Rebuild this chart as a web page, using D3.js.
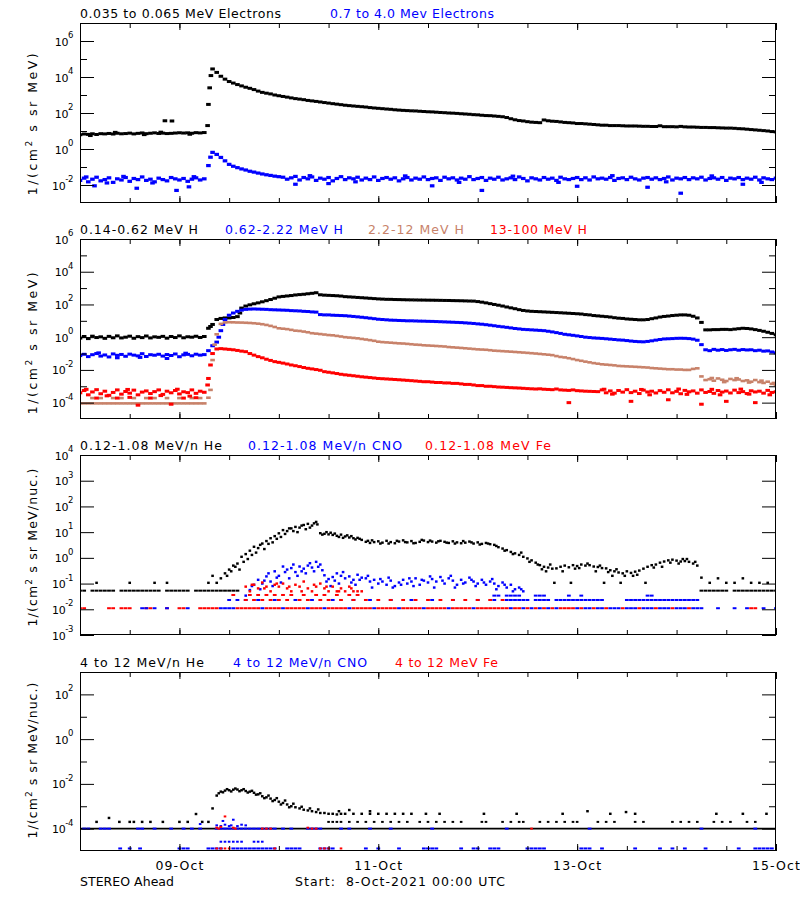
<!DOCTYPE html>
<html><head><meta charset="utf-8">
<script src="https://cdn.jsdelivr.net/npm/d3@7"></script>
<style>body{margin:0;background:#fff}svg{display:block}text{font-family:"DejaVu Sans",sans-serif}</style>
</head><body><svg id="c" width="800" height="900"></svg>
<script>
// ---------- DATA (hour index since 8-Oct-2021 00:00 UTC) ----------
const BLACK = "#000000", BLUE = "#0000ff", TAN = "#c8826a", RED = "#ff0000";

// Panel 1 electrons, hourly from h=0
const e1 = [6.2,6.8,6.5,7.0,6.4,7.1,6.9,7.3,6.8,7.5,7.0,7.2,7.6,6.9,7.4,7.8,7.1,7.5,7.9,7.3,7.6,7.2,7.4,7.7,8.0,7.7,7.9,7.5,8.1,7.8,8.2,
 300,28000,18000,11000,7600,5600,4600,3800,3200,2700,2350,2000,1650,1400,1260,1150,1000,910,830,760,690,630,590,550,500,470,440,410,380,355,330,310,290,270,257,245,234,224,214,200,190,182,
 174,166,160,151,145,140,136,132,130,125,121,117,115,111,107,104,100,98,95,91,88,85,81,79,75,72,71,68,65,62,56,48,
 42,38,36,33,31,30,29,41,37,35,34,32,30,29,28,26,26,25,24,23,22,21,21,20,20,20,19.5,19,19,19,
 18.6,18.2,18.2,17.8,17.8,19.5,17.4,17.4,17.4,17,18,17,16.6,16.6,16.2,15.8,15.8,15.5,15.5,15.1,14.8,14.5,14.5,14.1,
 13.5,13.2,12.6,12,11.5,11,10.5,10,9.3,8.9];
const e1Extra = [[20.5,37],[22.2,36],[30.8,20],[31.3,2500],[31.6,12000],[2.5,5.6],[8.5,8.4],[15.5,6.3],[19.5,8.6],[26.5,6.6]];
const e2 = [0.018,0.024,0.015,0.021,0.027,0.017,0.02,0.025,0.014,0.022,0.019,0.026,0.016,0.023,0.02,0.028,0.018,0.021,0.015,0.024,0.02,0.017,0.026,0.022,0.019,0.023,0.016,0.021,0.025,0.019,0.022,
 0.12,0.65,0.5,0.34,0.22,0.14,0.11,0.092,0.078,0.068,0.058,0.052,0.046,0.041,0.037,0.034,0.031,0.029,
 0.027,0.021,0.025,0.03,0.019,0.026,0.022,0.028,0.018,0.024,
 0.021,0.026,0.017,0.023,0.029,0.02,0.025,0.022,0.027,0.019,
 0.024,0.02,0.028,0.018,0.023,0.026,0.021,0.025,0.017,0.022,
 0.026,0.019,0.024,0.021,0.028,0.02,0.023,0.025,0.018,0.027,
 0.022,0.025,0.019,0.024,0.021,0.029,0.02,0.023,0.026,0.018,
 0.024,0.021,0.027,0.019,0.022,0.025,0.02,0.028,0.023,0.017,
 0.025,0.022,0.019,0.026,0.021,0.024,0.018,0.027,0.022,0.02,
 0.023,0.026,0.02,0.025,0.019,0.028,0.022,0.024,0.021,0.026,
 0.018,0.023,0.025,0.02,0.027,0.022,0.019,0.024,0.026,0.021,
 0.025,0.02,0.023,0.028,0.019,0.024,0.022,0.026,0.02,0.025,
 0.022,0.027,0.019,0.023,0.025,0.021,0.026,0.018,0.024,0.022,
 0.026,0.02,0.024,0.021,0.027,0.019,0.025,0.022,0.02,0.024];
const e2Extra = [[31.5,0.35],[3.5,0.009],[13.7,0.0066],[23.3,0.005],[26.3,0.0079],[52,0.011],[60,0.012],[85,0.009],[97,0.005],[120,0.0085],[137,0.0075],[145,0.0035],[160,0.011],
 [1.5,0.028],[6.5,0.013],[10.5,0.03],[17.5,0.013],[27.5,0.029],[55.5,0.033],[66.5,0.015],[78.5,0.032],[91.5,0.014],[104.5,0.031],[115.5,0.014],[128.5,0.033],[141.5,0.015],[152.5,0.032],[164.5,0.014]];

// Panel 2 protons, hourly from h=0
const h1 = [0.88,1.1,0.82,1.15,0.95,1.05,0.85,1.12,0.92,1.2,0.9,1.0,1.15,0.86,1.08,0.94,1.18,0.9,1.05,0.98,1.12,0.87,1.1,0.95,1.2,0.92,1.06,1.0,1.14,0.96,1.1,
 3.5,6,12,14,15,15,16,18,60,80,95,110,125,145,170,200,240,290,310,330,350,380,400,420,450,480,520,390,370,360,350,340,325,300,290,280,268,258,248,238,228,218,
 212,206,205,200,198,195,192,190,188,186,185,183,182,180,178,176,175,172,170,168,165,162,160,
 150,138,125,112,100,90,80,70,62,55,48,43,40,
 38,37,36,35,34,33,32,31,30,29,28,27,26,24,23,21,20,
 19,18,17,15.5,14.5,14,13,12.5,12,11.5,11.5,12,13.5,15,17,18.5,19.5,21,22,23,23,22,19,15,
 8,2.8,2.8,2.9,2.9,3.0,3.0,2.9,3.1,3.3,3.5,3.4,3.2,2.9,2.6,2.3,2.0,1.7,1.4];
const h1Extra = [[31.5,4.5],[38.6,30]];
const h2 = [0.075,0.09,0.065,0.085,0.1,0.07,0.082,0.062,0.095,0.078,0.088,0.068,0.092,0.08,0.072,0.098,0.066,0.085,0.079,0.09,0.07,0.087,0.076,0.094,0.064,0.083,0.089,0.073,0.091,0.08,0.086,
 0.15,0.3,0.5,2.5,12,22,30,38,45,50,52,53,52,51,50,48,47,46,45,44,42,41,40,38,37,35,34,24,23,23,22,21.5,21,20.5,19.5,18.5,17.5,16.5,15.5,14.5,13.5,12.5,
 12,11.5,11,10.8,10.5,10.3,10,10,9.8,9.6,9.5,9.3,9.2,9,8.8,8.6,8.4,8.2,8,7.8,7.5,7.2,6.9,6.5,6.2,5.8,5.4,5.0,
 4.6,4.3,4.0,3.7,3.4,3.2,3.0,2.9,2.8,2.7,2.6,2.5,2.3,2.1,1.9,1.7,1.5,1.4,1.3,1.2,1.1,1.0,0.95,0.9,0.87,
 0.84,0.8,0.76,0.72,0.68,0.66,0.62,0.58,0.55,0.53,0.52,0.55,0.6,0.66,0.72,0.78,0.8,0.82,0.85,0.86,0.85,0.82,0.76,0.65,0.35,
 0.17,0.15,0.18,0.16,0.175,0.155,0.17,0.18,0.16,0.175,0.165,0.17,0.15,0.16,0.14,0.145,0.125,0.11];
const h2Extra = [[33.5,1.0],[34.5,6],[21,0.05],[9,0.055],[4.5,0.11],[14.5,0.058],[25.5,0.105]];
const h3 = [0.00009,0.00009,0.00009,0.00009,0.00009,0.00009,0.00009,0.00009,0.00009,0.00009,0.00009,0.00009,0.00009,0.00009,0.00009,0.00009,0.00009,0.00009,0.00009,0.00009,0.00009,0.00009,0.00009,0.00009,0.00009,0.00009,0.00009,0.00009,0.00009,0.00009,0.00009,
 0.0002,0.04,1.5,6.5,8,8.2,8.1,7.9,7.8,7.6,7.4,7.1,6.7,6.2,5.6,4.9,4.2,3.5,3.3,3.1,2.8,2.5,2.4,2.2,2.0,1.75,1.65,1.55,1.45,1.35,1.3,1.2,1.1,1.0,0.95,0.9,0.85,0.78,0.72,0.66,0.6,0.53,
 0.5,0.48,0.46,0.44,0.42,0.41,0.39,0.37,0.35,0.34,0.32,0.31,0.3,0.29,0.28,0.27,0.25,
 0.24,0.23,0.22,0.21,0.2,0.19,0.18,0.175,0.17,0.16,0.15,0.145,
 0.14,0.135,0.13,0.125,0.12,0.115,0.11,0.105,0.1,0.095,0.09,0.085,0.08,0.07,0.062,
 0.058,0.052,0.046,0.04,0.036,0.032,0.029,0.026,0.024,
 0.022,0.021,0.02,0.019,0.0175,0.017,0.0165,0.016,0.0155,0.015,0.0145,0.014,0.013,0.0125,0.012,0.0115,0.011,0.011,0.0105,0.0105,0.01,0.01,0.0115,0.0125,0.004,
 0.0024,0.0027,0.0022,0.003,0.0025,0.0021,0.0028,0.0024,0.0026,0.0021,0.0023,0.0019,0.0024,0.0018,0.0016,0.0019,0.0014,0.0012];
const h3Extra = [[3,0.00019],[5,0.00019],[8,0.00019],[10,0.00019],[13,0.00019],[16,0.00019],[18,0.00019],[21,0.00019],[24,0.00019],[27,0.00019],[29,0.00019],[31.5,0.0006],[32.5,0.35],
 [152.5,0.0032],[155.5,0.0018],[158.5,0.0031],[161.5,0.0017],[164.5,0.0022],[167.5,0.0016]];
const h4 = [0.0004,0.00055,0.0003,0.00045,0.00062,0.00035,0.0005,0.00028,0.00042,0.0006,0.00033,0.00048,0.00038,0.00058,0.0003,0.00044,0.00052,0.00036,0.00047,0.0006,0.00032,0.0005,0.0004,0.00055,0.00034,0.00046,0.00041,0.0006,0.00037,0.0005,0.00043,
 0.003,0.1,0.19,0.2,0.19,0.18,0.17,0.155,0.14,0.13,0.1,0.08,0.065,0.055,0.045,0.038,0.032,0.029,0.026,0.023,0.02,0.018,0.016,0.014,0.0125,0.0115,0.0105,0.0095,0.0078,0.0072,0.0066,0.006,0.0054,0.005,0.0047,0.0044,0.0041,0.0038,0.0036,0.0034,0.0032,0.003,
 0.0029,0.0028,0.0027,0.0026,0.0025,0.0024,0.0023,0.0022,0.0021,0.002,0.0019,0.0019,0.0018,0.0017,0.0017,0.0016,0.0016,
 0.0015,0.0015,0.0014,0.0013,0.0013,0.0012,0.0011,0.0011,0.001,0.001,0.00095,0.0009,
 0.00088,0.00085,0.00082,0.0008,0.00078,0.00075,0.00072,0.0007,0.00068,0.0007,0.00066,0.00064,0.00062,0.00068,0.0006,0.00058,0.00056,0.0006,0.00054,0.00052,0.0005,0.00049,0.00048,
 0.00047,0.0006,0.0004,0.00052,0.00038,0.00055,0.00044,0.00062,0.00041,0.0005,
 0.00036,0.00058,0.00045,0.0005,0.00039,0.00054,0.00043,0.00061,0.0004,0.00049,
 0.00035,0.00056,0.00046,0.00052,0.00038,0.0006,0.00042,0.00048,0.00037,0.00055,
 0.00044,0.00051,0.00039,0.00058,0.00041,0.00047,0.00036,0.00053,0.00045,0.0005,
 0.00038,0.00056,0.00042,0.00046];
const h4Extra = [[4,0.00019],[9,0.00019],[12,0.00021],[17,0.00019],[25,0.00019],[28,0.0002],[14,0.00007],[22,0.00008],[31.5,0.02],[30.8,0.0012],
 [1.5,0.00065],[6.5,0.00026],[11.5,0.00064],[19.5,0.00027],[23.5,0.00066],[26.5,0.00025],
 [118,0.0001],[133,0.00012],[142,0.00015],[150,0.00008],[156,0.00012],[163,0.0001],[128.5,0.00033],[137.5,0.0003],[146.5,0.00032],[154.5,0.0003],[161.5,0.00033],[166.5,0.0003],
 [126.5,0.00066],[135.5,0.00064],[144.5,0.00068],[152.5,0.00065],[159.5,0.00067]];

// Panel 3 (0.12-1.08 MeV/n), event series start at given hour
const he3Start = 31;
const he3 = [0.107,0.2,0.107,0.16,0.25,0.35,0.5,0.6,1.1,1.4,
 1.9,2.7,2.4,3.6,4.5,5.8,7,9,12,11, 14,16,15,19,21,18,25,9.1,8.6,8.2,
 7.8,7.2,8,6.8,6.2,5.8,6,5,4.2,3.8, 4.1,4.4,3.9,4.6,4.1,3.7,4.3,4.8,4,4.5,
 3.8,4.2,4.7,4.1,4.3,3.9,4.6,4.2,3.8,4.4, 4,3.7,3.9,4.3,3.6,4,3.5,3.8,3.4,3.2,
 2.6,2.3,2,1.7,1.5,1.3,1.1,0.95,0.8,0.65, 0.52,0.45,0.42,0.38,0.39,0.45,0.5,0.43,0.52,0.48,
 0.55,0.5,0.52,0.46,0.44,0.4,0.39,0.33,0.3,0.27, 0.25,0.3,0.26,0.29,0.32,0.38,0.45,0.52,0.55,0.65,
 0.72,0.8,0.85,0.78,0.72,0.75,0.7,0.6,0.5,0.17];
const he3Extra = [[4,0.107],[12,0.107],[18,0.107],[21,0.107],[152,0.107],[154,0.16],[156,0.107],[158,0.107],[160,0.16],[162,0.107],[164,0.107],[166,0.107],
 [38.5,0.35],[40.5,0.9],[42.5,1.6],[44.5,2.2],[46.5,4],[48.5,6.5],[50.5,14],[52.5,10],[54.5,13],[56.5,22],[58.5,8],[60.5,9.5],[62.5,6.5],[64.5,7.5],[66.5,5.2],
 [70.5,4.8],[74.5,3.6],[78.5,4.1],[82.5,5.0],[86.5,4.4],[90.5,3.6],[94.5,4.0],[98.5,3.6],[102.5,1.9],[106.5,1.6],[110.5,0.55],[114.5,0.107],[118.5,0.107],
 [112.5,0.3],[120.5,0.4],[124.5,0.3],[126.5,0.107],[128.5,0.2],[130.5,0.107],[133.5,0.2],[136.5,0.107],[140.5,0.45],[144.5,0.6],[146.5,0.9],
 [35.5,0.2],[36.5,0.3],[37.5,0.45],[39.5,0.7],[41.5,1.3],[43.5,3.2],[45.5,3.5],[47.5,5.5],[49.5,8.5],[51.5,11],[53.5,18],[55.5,15],[57.3,20],[59.5,10],[61.5,8.8],
 [63.5,6],[65.5,7],[67.5,5.5],[69.5,4.6],[72.5,3.6],[76.5,4.6],[80.5,3.7],[84.5,4.7],[88.5,3.9],[92.5,4.5],[96.5,3.3],[100.5,2.9],[104.5,1.4],[108.5,0.7],
 [111.5,0.36],[113.5,0.55],[116.5,0.3],[119.5,0.38],[122.5,0.6],[125.5,0.5],[127.5,0.28],[129.5,0.36],[131.5,0.2],[134.5,0.22],[138.5,0.42],[142.5,0.65],[145.5,0.9],[148.5,0.7]];
const he3LowHours = [0,1,3,4,5,6,7,8,10,11,12,13,14,15,16,17,18,19,21,22,23,24,25,26,28,29,30,31,32,33,34,35,36,37,38,150,151,152,153,154,155,156,158,159,160,161,162,163,164,165,166,167,168];
const he3Low = 0.053;
const cno3Start = 41;
const cno3 = [0.056,0.09,0.14,0.1,0.19,0.12,0.3,0.2,0.46,0.35, 0.4,0.28,0.46,0.38,0.5,0.42,0.7,0.55,0.21,0.15,
 0.18,0.25,0.2,0.16,0.19,0.14,0.22,0.17,0.16,0.12, 0.14,0.1,0.12,0.09,0.13,0.08,0.11,0.14,0.1,0.12,
 0.16,0.09,0.13,0.11,0.15,0.12,0.18,0.1,0.16,0.13, 0.09,0.14,0.11,0.17,0.12,0.1,0.14,0.09,0.12,0.1,
 0.08,0.11,0.07,0.09,0.06,0.07,0.05];
const cno3Extra = [[40,0.034],[43.5,0.06],[46.5,0.08],[48.5,0.11],[50.5,0.16],[52.5,0.2],[54.5,0.25],[56.5,0.3],[60.5,0.08],[62.5,0.1],[66.5,0.09],[70.5,0.07],[75.5,0.07],[80.5,0.08],[85.5,0.07],[90.5,0.07],[95.5,0.08],[100.5,0.06],[104.5,0.05],
 [41.5,0.08],[44.5,0.13],[45.5,0.25],[47.5,0.17],[49.5,0.28],[51.5,0.55],[53.5,0.3],[55.5,0.62],[57.5,0.45],[58.5,0.33],[59.5,0.12],[61.5,0.13],[63.5,0.28],[65.5,0.11],[67.5,0.14],[69.5,0.2],
 [72.5,0.15],[74.5,0.17],[77.5,0.09],[79.5,0.16],[82.5,0.14],[84.5,0.19],[87.5,0.13],[89.5,0.2],[92.5,0.1],[94.5,0.14],[97.5,0.11],[99.5,0.15],[102.5,0.09],[106.5,0.06]];
const cno3LowHours = [15,16,18,21,26,34,35,36,37,44,49,55,59,65,71,77,83,89,95,104,107,109,111,113,115,120,122,123,125,126,128,129,130,132,133,134,136,137,138,140,141,142,144,145,146,148,149,150,154,158,161,165,168];
const cno3MidHours = [36,38,40,43,47,52,56,61,66,70,75,80,85,90,96,100,103,104,105,106,107,108,110,111,112,113,115,116,117,118,119,120,121,122,123,124,125,126,132,133,134,135,136,137,138,139,140,141,142,143,144,145,146,147,148,149];
const cno3HighHours = [100,101,103,104,105,106,110,111,112,118,121,137,138];
const fe3Start = 40;
const fe3 = [0.076,0.05,0.09,0.065,0.11,0.076,0.05,0.09,0.076,0.1,0.065,0.05,0.09,0.076,0.12,0.065,0.05,0.076,0.1,0.065,0.05,0.076,0.05,0.065,0.05,0.076,0.05,0.05,0.05];
const fe3Extra = [[41.5,0.09],[44.5,0.065],[47.5,0.1],[50.5,0.076],[53.5,0.05],[56.5,0.09],[59.5,0.076],[62.5,0.05],[65.5,0.065]];
const fe3LowHours = [0,1,7,8,10,11,12,16,17,21,24,25,29,30,31,32,33,38,39,40,41,42,43,45,46,47,48,50,51,52,53,54,56,57,58,60,61,62,63,64,66,67,68,69,70,72,73,74,75,76,78,79,80,81,82,84,85,86,87,88,90,91,92,93,94,96,97,98,99,100,101,102,103,105,106,108,110,112,114,116,117,118,119,121,124,127,131,135,139,143,147,162,163];
const fe3MidHours = [40,42,44,46,48,50,53,55,58,60,63,66,69,72,75,78,81,84,87,90,93,96,99,102];
const fe3HighHours = [37,41,43,45,47,49,51,54,57,59,62,65,67];
const lvl3 = {low: 0.011, mid: 0.023, cnoHigh: 0.034, feHigh: 0.036};

// Panel 4 (4-12 MeV/n)
const he4Base = [[0,1e-4],[168,1e-4]];
const he4Start = 32;
const he4 = [0.0008,0.003,0.0045,0.005,0.0052,0.0055,0.0056,0.0052,0.0048,0.0045,0.004,0.0034,0.0028,0.0025,0.0022,0.0019,0.0016,0.0014,0.0012,0.001,0.0009,0.0008,0.0007,0.00065,0.0006,0.00055,0.0005,0.0005,0.00046,0.00046,0.00043,0.00046];
const he4Extra = [[33.5,0.0038],[34.5,0.0042],[35.5,0.0058],[36.5,0.0046],[37.5,0.0062],[38.5,0.0047],[39.5,0.0058],[40.5,0.0041],[41.5,0.0049],[42.5,0.0033],[43.5,0.0038],[44.5,0.0023],[45.5,0.003],[46.5,0.0017],[47.5,0.0023],[48.5,0.0012],[49.5,0.0018],[50.5,0.0009],[51.5,0.0013],[53.5,0.00095],[55.5,0.0008],[57.5,0.00072],[62.5,0.0006],[65,0.00068],[70,0.0006],
 [4,0.0002],[7,0.0003],[9.5,0.0002],[12,0.0002],[13,0.0002],[15,0.0002],[17,0.0002],[20,0.0002],[24,0.0002],[26,0.0002],[28,0.00045],[29.5,0.0002],[31,0.0002],
 [64,0.00046],[66,0.00046],[68,0.00046],[70,0.00046],[72,0.00046],[74,0.00046],[76,0.00046],[78,0.00046],[80,0.00046],[83.5,0.00046],[86.8,0.00046],[97.5,0.00046],[105.4,0.00046],[116.5,0.00046],[122.5,0.0006],[128,0.00046],[131.8,0.00055],[134,0.00046],[153.6,0.00046],[160,0.00046],[165.7,0.00046]];
const he4MidHours = [60,61,62,63,65,67,69,71,73,75,77,79,82,84,86,88,90,92,97,98,102,104,106,107,111,113,115,117,119,120,125,127,129,134,136,143,145,147,149,153,155,157,161,163];
const he4Mid = 0.0002;
const cno4BaseHours = [1,2,5,6,7,14,15,18,22,25,27,29,33,34,35,36,37,38,39,40,41,42,43,44,45,46,47,49,51,55,56,57,58,63,65,70,75,85,103,123,150,163];
const cno4LowHours = [9.7,12,14.5,24,25,26,31,32,33,34,37,38,39,40,41,42,43,44,45,46,47,50,51,52,53,58,59,60,61,69,72,77,83,84,85,86,92,95,96,99,100,101,108,109,110,111,112,121,122,123,126,134,140,143,146,151,159,163,164,165,166,167];
const cno4Extra = [[33,0.00014],[34,0.00013],[34.5,0.00022],[35,0.00015],[36,0.00013],[36.5,0.00014],[37,0.00025],[38,0.00013],[39,0.00015],[40,0.00014],[29,0.00016],
 [34,0.000026],[35,0.000026],[36,0.000026],[37,0.000026],[38,0.000026],[39,0.000026],[42,0.000026],[43,0.000026],[44,0.000026]];
const fe4Extra = [[33,0.00011],[33.5,0.0001],[34,0.00012],[37,0.00011],[37.5,0.0001],[44,0.0001],[45,0.0001],[46,0.0001],[55,0.00011],[56,0.0001],[57,0.0001],[109,0.0001],[35,0.00035],
 [33,0.000013],[34,0.000013],[35,0.000013],[36,0.000013],[47,0.000013],[58,0.000013],[59,0.000013],[60,0.000013],[63,0.000013]];
const lvl4 = {base: 1e-4, low: 1.3e-5};

// ---------- DRAWING ----------
const svg = d3.select('#c');
const X0 = 80, X1 = 776;
const START = Date.UTC(2021, 9, 8), END = Date.UTC(2021, 9, 15);
const T = h => new Date(START + h * 3600e3);
const x = d3.scaleUtc().domain([new Date(START), new Date(END)]).range([X0, X1]);
const hourly = (vals, start = 0) => vals.map((v, i) => [start + i, v]);
const atLevel = (hours, v) => hours.map(h => [h, v]);

function fitText(t, w) {
  const n = t.node(), L = n.getComputedTextLength(), c = n.textContent.length;
  if (c > 1) t.attr('letter-spacing', ((w - L) / (c - 1)).toFixed(3));
}

const panels = [
  {top: 23, bottom: 203, domain: [1e-3, 1e7], every: 2, ytitle: 'MeV)', ylen: 142, ycy: 123,
   titles: [['0.035 to 0.065 MeV Electrons', 80, 201, BLACK], ['0.7 to 4.0 Mev Electrons', 330, 164, BLUE]],
   series: [[hourly(e1).concat(e1Extra), BLACK, 4.6, 3], [hourly(e2).concat(e2Extra), BLUE, 4.6, 3.2]]},
  {top: 239, bottom: 419, domain: [1e-5, 1e6], every: 2, ytitle: 'MeV)', ylen: 142, ycy: 342,
   titles: [['0.14-0.62 MeV H', 80, 118, BLACK], ['0.62-2.22 MeV H', 225, 118, BLUE], ['2.2-12 MeV H', 368, 96, TAN], ['13-100 MeV H', 490, 97, RED]],
   series: [[hourly(h1).concat(h1Extra), BLACK, 4.6, 3], [hourly(h2).concat(h2Extra), BLUE, 4.6, 3],
            [hourly(h3).concat(h3Extra), TAN, 4.6, 2.6], [hourly(h4).concat(h4Extra), RED, 4.6, 3]]},
  {top: 455, bottom: 635, domain: [1e-3, 1e4], every: 1, ytitle: 'MeV/nuc.)', ylen: 158, ycy: 547,
   titles: [['0.12-1.08 MeV/n He', 80, 142, BLACK], ['0.12-1.08 MeV/n CNO', 248, 154, BLUE], ['0.12-1.08 MeV Fe', 425, 126, RED]],
   series: [[atLevel(he3LowHours, he3Low), BLACK, 3.8, 2], [hourly(he3, he3Start).concat(he3Extra), BLACK, 2.6, 2.4],
            [atLevel(cno3MidHours, lvl3.mid).concat(atLevel(cno3HighHours, lvl3.cnoHigh)), BLUE, 3.8, 2],
            [hourly(cno3, cno3Start).concat(cno3Extra), BLUE, 2.6, 2.4],
            [atLevel(fe3MidHours, lvl3.mid).concat(atLevel(fe3HighHours, lvl3.feHigh)), RED, 3.8, 2],
            [hourly(fe3, fe3Start).concat(fe3Extra), RED, 2.6, 2.4],
            [atLevel(fe3LowHours, lvl3.low), RED, 3.8, 2], [atLevel(cno3LowHours, lvl3.low), BLUE, 3.8, 2]]},
  {top: 672, bottom: 851, domain: [1e-5, 1e3], every: 2, ytitle: 'MeV/nuc.)', ylen: 156, ycy: 760,
   titles: [['4 to 12 MeV/n He', 80, 124, BLACK], ['4 to 12 MeV/n CNO', 233, 134, BLUE], ['4 to 12 MeV Fe', 395, 103, RED]],
   line: [he4Base, BLACK],
   series: [[hourly(he4, he4Start).concat(he4Extra), BLACK, 2.6, 2.4], [atLevel(he4MidHours, he4Mid), BLACK, 2.6, 2],
            [atLevel(cno4BaseHours, lvl4.base), BLUE, 3.8, 2], [atLevel(cno4LowHours, lvl4.low), BLUE, 3.8, 2],
            [cno4Extra, BLUE, 2.6, 2], [fe4Extra, RED, 2.6, 2]]}
];

const minorT = d3.utcHour.every(12).range(new Date(START), new Date(END + 1));
const majorT = d3.utcDay.every(2).range(new Date(START), new Date(END + 1));

panels.forEach((p, i) => {
  const y = d3.scaleLog().domain(p.domain).range([p.bottom, p.top]);
  const lo = Math.round(Math.log10(p.domain[0])), hi = Math.round(Math.log10(p.domain[1]));
  const exps = d3.range(lo, hi + 1);
  const major = exps.filter(e => p.every === 1 || e % 2 === 0).map(e => Math.pow(10, e));
  const minor = exps.filter(e => p.every !== 1 && e % 2 !== 0 && e > lo && e < hi).map(e => Math.pow(10, e));

  const cid = 'clip' + i;
  svg.append('clipPath').attr('id', cid).append('rect')
    .attr('x', X0).attr('y', p.top).attr('width', X1 - X0).attr('height', p.bottom - p.top);
  const data = svg.append('g').attr('clip-path', `url(#${cid})`);

  if (p.line) {
    data.append('path').datum(p.line[0]).attr('fill', 'none').attr('stroke', p.line[1]).attr('stroke-width', 1.8)
      .attr('d', d3.line().x(d => x(T(d[0]))).y(d => y(d[1])));
  }
  p.series.forEach(([pts, color, w, h]) => {
    data.append('g').attr('fill', color).selectAll('rect')
      .data(pts.filter(d => d[1] != null)).join('rect')
      .attr('x', d => x(T(d[0])) - w / 2).attr('y', d => y(d[1]) - h / 2)
      .attr('width', w).attr('height', h);
  });

  const strip = g => { g.select('.domain').remove(); g.selectAll('line').attr('stroke', '#000'); };
  const yl = svg.append('g').attr('transform', `translate(${X0},0)`)
    .call(d3.axisLeft(y).tickValues(major).tickSize(-14).tickPadding(8).tickFormat(''))
    .call(strip);
  svg.append('g').attr('transform', `translate(${X0},0)`)
    .call(d3.axisLeft(y).tickValues(minor).tickSize(-7).tickFormat('')).call(strip);
  svg.append('g').attr('transform', `translate(${X1},0)`)
    .call(d3.axisRight(y).tickValues(major).tickSize(-14).tickFormat('')).call(strip);
  svg.append('g').attr('transform', `translate(${X1},0)`)
    .call(d3.axisRight(y).tickValues(minor).tickSize(-7).tickFormat('')).call(strip);
  yl.selectAll('.tick').each(function (d) {
    const e = Math.round(Math.log10(d));
    const t = d3.select(this).append('text').attr('x', -7).attr('y', 4).attr('text-anchor', 'end')
      .attr('fill', '#000').attr('font-size', 11).attr('letter-spacing', -0.4)
      .style('font-family', '"DejaVu Sans", sans-serif');
    t.append('tspan').text('10');
    t.append('tspan').attr('font-size', 8.5).attr('dy', -7.5).text(String(e));
  });

  const xb = svg.append('g').attr('transform', `translate(0,${p.bottom})`);
  xb.append('g').call(d3.axisBottom(x).tickValues(minorT).tickSize(-5).tickFormat('')).call(strip);
  const xbm = xb.append('g').call(d3.axisBottom(x).tickValues(majorT).tickSize(-7).tickPadding(15)
      .tickFormat(i === 3 ? d3.utcFormat('%d-%b') : '')).call(strip);
  xbm.selectAll('text').attr('font-size', 12.5).attr('fill', '#000').style('font-family', '"DejaVu Sans", sans-serif')
    .attr('y', 19).attr('dy', 0).each(function () { fitText(d3.select(this), 48); });
  const xt = svg.append('g').attr('transform', `translate(0,${p.top})`);
  xt.append('g').call(d3.axisTop(x).tickValues(minorT).tickSize(-5).tickFormat('')).call(strip);
  xt.append('g').call(d3.axisTop(x).tickValues(majorT).tickSize(-7).tickFormat('')).call(strip);

  svg.append('rect').attr('x', X0 + 0.5).attr('y', p.top + 0.5).attr('width', X1 - X0 - 1).attr('height', p.bottom - p.top - 1)
    .attr('fill', 'none').attr('stroke', '#000').attr('stroke-width', 1);

  p.titles.forEach(([txt, tx, tw, color]) => {
    const t = svg.append('text').attr('x', tx).attr('y', p.top - 5.5).attr('font-size', 12.5).attr('fill', color).text(txt);
    fitText(t, tw);
  });

  const yt = svg.append('text').attr('transform', `translate(37,${p.ycy}) rotate(-90)`)
    .attr('text-anchor', 'middle').attr('font-size', 12.5).attr('fill', '#000');
  yt.append('tspan').text('1/(cm');
  yt.append('tspan').attr('font-size', 9).attr('dy', -5).text('2');
  yt.append('tspan').attr('dy', 5).text(' s sr ' + p.ytitle);
  fitText(yt, p.ylen);
});

const f1 = svg.append('text').attr('x', 80).attr('y', 886).attr('font-size', 12.5).attr('fill', '#000').text('STEREO Ahead');
fitText(f1, 94);
const f2 = svg.append('text').attr('x', 295).attr('y', 886).attr('font-size', 12.5).attr('fill', '#000')
  .style('white-space', 'pre').text('Start:  8-Oct-2021 00:00 UTC');
fitText(f2, 210);
</script></body></html>
